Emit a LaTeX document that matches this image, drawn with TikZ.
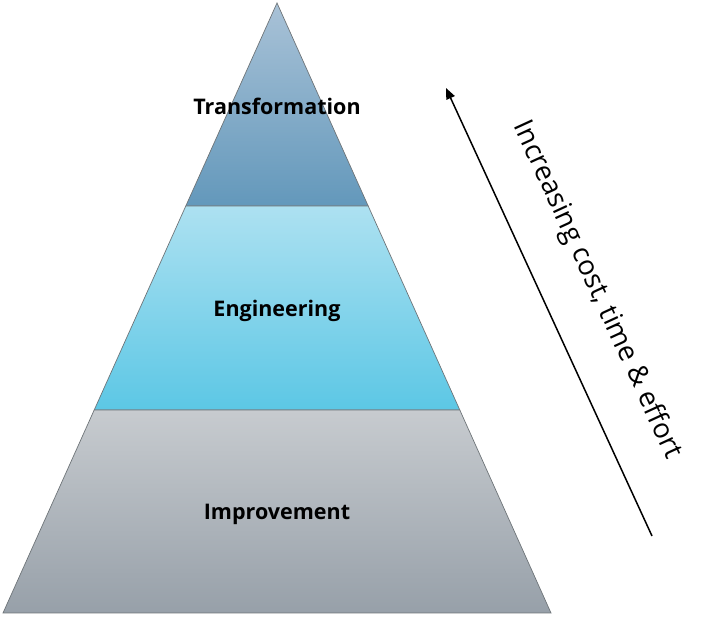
\documentclass[tikz,border=0pt]{standalone}
\usepackage{fontspec}
\setmainfont{Open Sans}
\usetikzlibrary{arrows.meta}
\definecolor{tTop}{HTML}{A9C2D7}
\definecolor{tBot}{HTML}{6398BB}
\definecolor{mTop}{HTML}{ADE1F1}
\definecolor{mBot}{HTML}{5CC7E5}
\definecolor{bTop}{HTML}{C7CBCF}
\definecolor{bBot}{HTML}{97A0A9}
\definecolor{edge}{HTML}{6E7478}
\tikzset{
  tier/.style={draw=edge, line width=0.7pt},
  lbl/.style={font=\bfseries\fontsize{21.5}{24}\selectfont, text=black, inner sep=0pt},
  side/.style={font=\fontsize{27.5}{30}\selectfont, text=black, inner sep=0pt}
}
\begin{document}
\begin{tikzpicture}[x=1pt,y=-1pt]
\useasboundingbox (0,0) rectangle (713,617);
\coordinate (apex) at (277,3);
\coordinate (tl) at (185.8,206);
\coordinate (tr) at (368.2,206);
\coordinate (ml) at (94.2,410);
\coordinate (mr) at (459.8,410);
\coordinate (bl) at (3,613);
\coordinate (br) at (551,613);
\shade[tier, top color=tTop, bottom color=tBot] (apex) -- (tr) -- (tl) -- cycle;
\shade[tier, top color=mTop, bottom color=mBot] (tl) -- (tr) -- (mr) -- (ml) -- cycle;
\shade[tier, top color=bTop, bottom color=bBot] (ml) -- (mr) -- (br) -- (bl) -- cycle;
\node[lbl] (trans) at (277,106) {Transformation};
\node[lbl] (eng) at (277,311) {Engineering};
\node[lbl] (imp) at (277,514) {Improvement};
\coordinate (a0) at (652,536);
\coordinate (a1) at (446,88);
\draw[line width=1.5pt, -{Triangle[length=11pt,width=9pt]}] (a0) -- (a1);
\node[side, rotate=-65.3] (cost) at (597,290) {Increasing cost, time \& effort};
\end{tikzpicture}
\end{document}
